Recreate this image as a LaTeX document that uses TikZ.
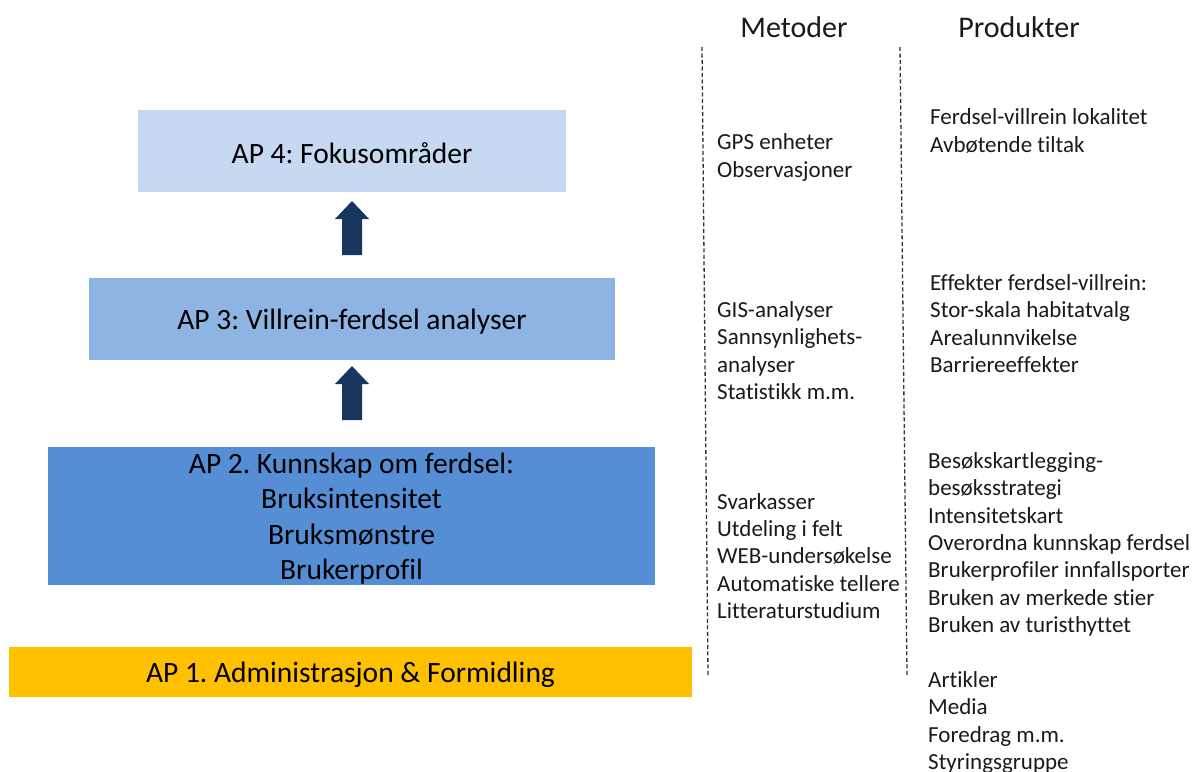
\documentclass[tikz,border=0pt]{standalone}
\usepackage{fontspec}
\setmainfont{Carlito}[Ligatures=NoCommon]
\definecolor{apfour}{HTML}{C6D9F1}
\definecolor{apthree}{HTML}{8EB4E3}
\definecolor{aptwo}{HTML}{558ED5}
\definecolor{apone}{HTML}{FFC000}
\definecolor{arrowc}{HTML}{17375E}
\definecolor{txt}{HTML}{1A1A1A}
\begin{document}
\frenchspacing
\begin{tikzpicture}[x=1pt,y=-1pt,
  apbox/.style={draw=none,inner sep=0pt,align=center,text=black,font=\fontsize{29.5}{35.5}\selectfont},
  aptext/.style={yshift=-2.5pt},
  coltext/.style={anchor=base west,inner sep=0pt,align=left,text=txt,font=\fontsize{23}{27.3}\selectfont},
  header/.style={anchor=base,inner sep=0pt,text=txt,font=\fontsize{30}{34}\selectfont},
  sep/.style={draw=black!80,line width=1.3pt,dash pattern=on 4pt off 2.5pt},
  blockarrow/.style={fill=arrowc,draw=none}]
\useasboundingbox (0,0) rectangle (1201,771);
\fill[white] (0,0) rectangle (1201,771);

% boxes
\node[apbox,fill=apfour,minimum width=428pt,minimum height=82pt] (ap4) at (352,151) {};
\node[apbox,fill=apthree,minimum width=526pt,minimum height=82pt] (ap3) at (352,319) {};
\node[apbox,fill=aptwo,minimum width=607pt,minimum height=138pt] (ap2) at (351.5,516) {};
\node[apbox,fill=apone,minimum width=683pt,minimum height=50pt] (ap1) at (350.5,672) {};
\node[apbox,aptext] (t4) at (ap4) {AP 4: Fokusområder};
\node[apbox,aptext] (t3) at (ap3) {AP 3: Villrein-ferdsel analyser};
\node[apbox,aptext] (t2) at (ap2) {AP 2. Kunnskap om ferdsel:\\Bruksintensitet\\Bruksmønstre\\Brukerprofil};
\node[apbox,aptext] (t1) at (ap1) {AP 1. Administrasjon \& Formidling};

% block arrows
\coordinate (a1) at (352,201);
\fill[blockarrow] (a1) -- ++(17,18) -- ++(-7,0) -- ++(0,36) -- ++(-20,0) -- ++(0,-36) -- ++(-7,0) -- cycle;
\coordinate (a2) at (352,366);
\fill[blockarrow] (a2) -- ++(17,18) -- ++(-7,0) -- ++(0,36) -- ++(-20,0) -- ++(0,-36) -- ++(-7,0) -- cycle;

% headers
\node[header] (hm) at (794,37) {Metoder};
\node[header] (hp) at (1019,37) {Produkter};

% dashed separators
\coordinate (s1t) at (702,47);
\coordinate (s1b) at (708,675);
\coordinate (s2t) at (900,47);
\coordinate (s2b) at (907,675);
\draw[sep] (s1t) -- (s1b);
\draw[sep] (s2t) -- (s2b);

% methods (anchor at baseline of last line)
\node[coltext] (m4) at (717,177) {GPS enheter\\Observasjoner};
\node[coltext] (m3) at (717,399.5) {GIS-analyser\\Sannsynlighets-\\analyser\\Statistikk m.m.};
\node[coltext] (m2) at (717,618.5) {Svarkasser\\Utdeling i felt\\WEB-undersøkelse\\Automatiske tellere\\Litteraturstudium};

% products
\node[coltext] (p4) at (930,152) {Ferdsel-villrein lokalitet\\Avbøtende tiltak};
\node[coltext] (p3) at (930,372.5) {Effekter ferdsel-villrein:\\Stor-skala habitatvalg\\Arealunnvikelse\\Barriereeffekter};
\node[coltext] (p2) at (928,632.3) {Besøkskartlegging-\\besøksstrategi\\Intensitetskart\\Overordna kunnskap ferdsel\\Brukerprofiler innfallsporter\\Bruken av merkede stier\\Bruken av turisthyttet};
\node[coltext] (p1) at (928,769.5) {Artikler\\Media\\Foredrag m.m.\\Styringsgruppe};
\end{tikzpicture}
\end{document}
